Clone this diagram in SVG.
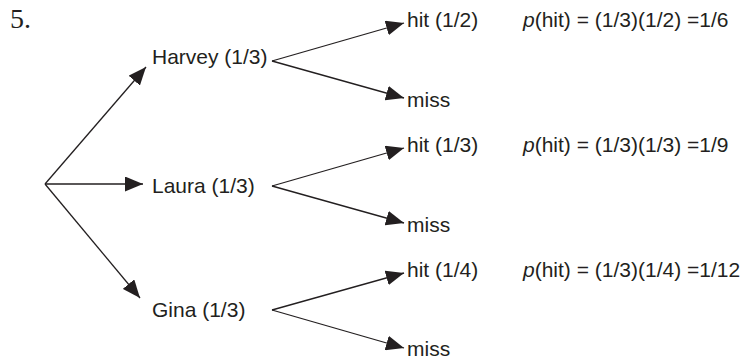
<svg xmlns="http://www.w3.org/2000/svg" width="745" height="360" viewBox="0 0 745 360">
<style>
text{font-family:"Liberation Sans",Arial,sans-serif;font-size:21px;fill:#231f20}
.num{font-family:"Liberation Serif","Times New Roman",serif;font-size:28px}
.e{stroke:#231f20;stroke-width:1.3;fill:none}
</style>
<defs>
<marker id="ah" viewBox="0 0 18 15" refX="18" refY="7.5" markerWidth="18" markerHeight="15" markerUnits="userSpaceOnUse" orient="auto">
<path d="M0,0 L18,7.5 L0,15 Z" fill="#231f20"/>
</marker>
</defs>
<rect width="745" height="360" fill="#fff"/>
<text class="num" x="10" y="28">5.</text>
<g id="connectors">
<path class="e" d="M45,184 L146,67" marker-end="url(#ah)"/>
<path class="e" d="M45,184 L143,184" marker-end="url(#ah)"/>
<path class="e" d="M45,184 L140,298" marker-end="url(#ah)"/>
<path class="e" d="M272,61 L404,23" marker-end="url(#ah)"/>
<path class="e" d="M272,61 L404,98" marker-end="url(#ah)"/>
<path class="e" d="M272,186 L404,148" marker-end="url(#ah)"/>
<path class="e" d="M272,186 L404,223" marker-end="url(#ah)"/>
<path class="e" d="M272,310 L404,273" marker-end="url(#ah)"/>
<path class="e" d="M272,310 L404,348" marker-end="url(#ah)"/>
</g>
<g id="harvey"><text x="152" y="64">Harvey (1/3)</text></g>
<g id="laura"><text x="152" y="193">Laura (1/3)</text></g>
<g id="gina"><text x="152" y="317">Gina (1/3)</text></g>
<g id="harvey-hit"><text x="407" y="27">hit (1/2)</text></g>
<g id="harvey-miss"><text x="407" y="107">miss</text></g>
<g id="laura-hit"><text x="407" y="152">hit (1/3)</text></g>
<g id="laura-miss"><text x="407" y="232">miss</text></g>
<g id="gina-hit"><text x="407" y="277">hit (1/4)</text></g>
<g id="gina-miss"><text x="407" y="356">miss</text></g>
<g id="p-harvey"><text x="523" y="27"><tspan font-style="italic">p</tspan>(hit) = (1/3)(1/2) =1/6</text></g>
<g id="p-laura"><text x="523" y="152"><tspan font-style="italic">p</tspan>(hit) = (1/3)(1/3) =1/9</text></g>
<g id="p-gina"><text x="523" y="277"><tspan font-style="italic">p</tspan>(hit) = (1/3)(1/4) =1/12</text></g>
</svg>
